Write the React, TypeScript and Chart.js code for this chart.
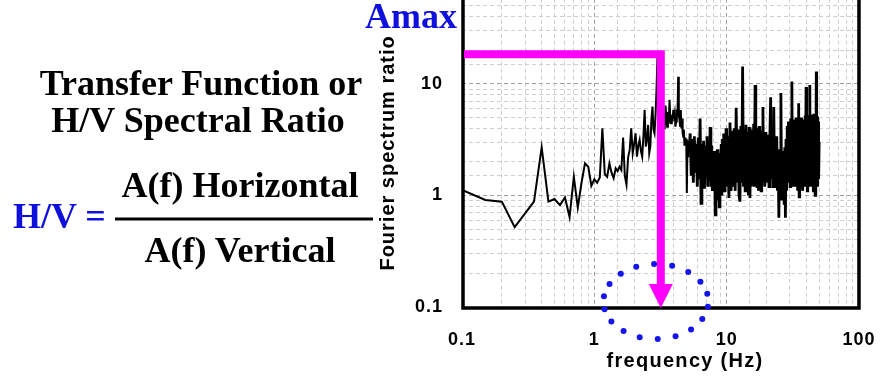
import React, { useEffect, useRef } from 'react';
import { Chart, registerables } from 'chart.js';

Chart.register(...registerables);

// ---- data (frequency in Hz, H/V spectral ratio) ----
const FREQ_LOW = [0.1, 0.15, 0.2, 0.25, 0.35, 0.4, 0.45, 0.5, 0.55, 0.6, 0.65, 0.7, 0.75, 0.8, 0.85, 0.9, 0.95];
const RATIO_LOW = [1.12, 0.91, 0.88, 0.52, 0.88, 2.7, 0.88, 0.93, 0.82, 0.96, 0.64, 1.47, 0.78, 1.3, 1.94, 1.81, 1.22];

const FREQ_RISE = [1.0, 1.05, 1.1, 1.15, 1.2, 1.25, 1.3, 1.35, 1.4, 1.45, 1.5, 1.55, 1.6, 1.65, 1.7, 1.75, 1.8, 1.85, 1.9, 1.95,
  2.0, 2.05, 2.1, 2.15, 2.2, 2.25, 2.3, 2.35, 2.4, 2.45, 2.5, 2.55, 2.6, 2.65, 2.7, 2.75, 2.8, 2.85, 2.9, 2.95, 3.0, 3.05, 3.1, 3.15];
const RATIO_RISE = [1.4, 1.3, 1.45, 4.0, 1.55, 1.47, 1.94, 1.6, 1.43, 1.75, 1.65, 1.81, 1.69, 3.3, 1.5, 1.25, 2.2, 2.56, 4.0, 2.39,
  2.9, 3.6, 2.23, 2.8, 3.15, 2.5, 2.23, 3.4, 5.85, 2.74, 3.2, 4.29, 2.4, 2.74, 4.8, 6.26, 3.9, 3.61, 5.2, 8.8, 17.5, 6.0, 4.0, 5.5];

const FREQ_PEAK = [3.2, 3.25, 3.3, 3.35, 3.4, 3.45, 3.5, 3.55, 3.6, 3.65, 3.7, 3.75, 3.8, 3.85, 3.9, 3.95, 4.0, 4.05, 4.1, 4.15,
  4.2, 4.25, 4.3, 4.35, 4.4, 4.45, 4.5, 4.55, 4.6, 4.65, 4.7, 4.75, 4.8, 4.85, 4.9, 4.95, 5.0, 5.05, 5.1, 5.15, 5.2];
const RATIO_PEAK = [5.0, 6.7, 4.2, 5.3, 3.9, 6.4, 5.1, 4.14, 5.6, 4.4, 7.2, 5.0, 4.45, 5.3, 4.6, 5.85, 4.9, 5.4, 4.14, 4.6,
  5.9, 5.1, 11.6, 5.2, 4.75, 4.2, 5.85, 4.0, 4.9, 3.6, 3.37, 3.9, 2.8, 3.3, 2.96, 3.2, 1.05, 2.4, 3.1, 2.2, 2.56];

const FREQ_BAND1 = [5.3, 5.4, 5.5, 5.6, 5.7, 5.8, 5.9, 6.0, 6.1, 6.2, 6.3, 6.4, 6.5, 6.6, 6.7, 6.8, 6.9, 7.0, 7.1, 7.2,
  7.3, 7.4, 7.5, 7.6, 7.7, 7.8, 7.9, 8.0, 8.1, 8.2, 8.3, 8.4, 8.5, 8.6, 8.7, 8.8, 8.9, 9.0, 9.1, 9.2,
  9.3, 9.4, 9.5, 9.6, 9.7, 9.8, 9.9, 10.0];
const RATIO_BAND1 = [3.6, 1.5, 3.2, 1.3, 3.4, 1.6, 2.9, 1.2, 3.3, 1.4, 4.9, 0.85, 2.9, 1.4, 3.1, 1.15, 2.8, 1.5, 3.4, 1.2,
  2.7, 1.4, 4.1, 1.2, 2.8, 1.1, 2.4, 1.3, 2.5, 0.67, 2.1, 1.0, 2.6, 0.9, 2.0, 0.79, 2.4, 1.1, 2.9, 1.0,
  3.2, 1.2, 3.6, 1.1, 3.3, 1.3, 4.0, 1.2];

const FREQ_BAND2 = [10.2, 10.4, 10.6, 10.8, 11.0, 11.2, 11.4, 11.6, 11.8, 12.0, 12.2, 12.4, 12.6, 12.8, 13.0, 13.2, 13.4, 13.6, 13.8, 14.0,
  14.2, 14.4, 14.6, 14.8, 15.0, 15.2, 15.4, 15.6, 15.8, 16.0, 16.2, 16.4, 16.6, 16.8, 17.0, 17.2, 17.4, 17.6, 17.8, 18.0,
  18.2, 18.4, 18.6, 18.8, 19.0, 19.2, 19.4, 19.6, 19.8, 20.0];
const RATIO_BAND2 = [3.4, 0.95, 4.5, 1.1, 3.8, 1.2, 4.0, 1.1, 6.1, 1.3, 3.9, 1.0, 0.88, 4.2, 1.3, 14.3, 1.2, 3.9, 1.1, 4.3,
  1.3, 3.7, 1.0, 4.1, 0.95, 3.9, 1.2, 3.6, 1.4, 4.4, 1.2, 9.8, 1.3, 4.0, 1.2, 3.7, 1.1, 4.2, 1.3, 3.6,
  1.1, 3.8, 1.4, 6.2, 1.3, 3.5, 1.2, 3.7, 1.4, 3.3];

const FREQ_BAND3 = [20.3, 20.6, 20.9, 21.2, 21.5, 21.8, 22.1, 22.4, 22.7, 23.0, 23.3, 23.6, 23.9, 24.2, 24.5, 24.8, 25.1, 25.4, 25.7, 26.0,
  26.3, 26.6, 26.9, 27.2, 27.5, 27.8, 28.1, 28.4, 28.7, 29.0, 29.3, 29.6, 29.9, 30.2, 30.5, 30.8, 31.1, 31.4, 31.7, 32.0,
  32.3, 32.6, 32.9, 33.2, 33.5, 33.8, 34.1, 34.4, 34.7, 35.0, 35.3, 35.6, 35.9, 36.2, 36.5, 36.8, 37.1, 37.4, 37.7, 38.0,
  38.3, 38.6, 38.9, 39.2, 39.5, 39.8, 40.1, 40.4, 40.7, 41.0, 41.3, 41.6, 41.9, 42.2, 42.5, 42.8, 43.1, 43.4, 43.7, 44.0,
  44.3, 44.6, 44.9, 45.2, 45.5, 45.8, 46.1, 46.4, 46.7, 47.0, 47.3, 47.6, 47.9, 48.2, 48.5, 48.8, 49.1, 49.4, 49.7, 50.0];
const RATIO_BAND3 = [1.3, 3.5, 1.2, 3.3, 7.6, 1.4, 3.6, 1.2, 6.2, 1.3, 3.2, 1.2, 3.4, 1.1, 2.6, 0.63, 2.4, 0.95, 8.3, 0.9,
  2.5, 1.0, 2.3, 0.85, 2.7, 0.63, 3.2, 1.1, 4.2, 1.3, 4.6, 1.4, 4.3, 1.2, 4.9, 1.5, 10.5, 1.3, 4.4, 1.2,
  4.8, 1.4, 4.1, 1.2, 5.0, 1.5, 4.3, 1.1, 4.7, 6.7, 0.97, 4.2, 1.3, 4.6, 1.2, 5.0, 1.4, 4.1, 1.1, 4.8,
  1.5, 4.4, 1.2, 5.2, 1.3, 9.4, 1.4, 4.5, 1.1, 4.9, 1.6, 4.2, 1.2, 5.1, 9.8, 1.3, 4.6, 1.5, 5.3, 1.2,
  4.4, 1.4, 4.8, 1.1, 5.4, 1.5, 4.5, 1.3, 1.0, 5.0, 1.4, 12.9, 1.6, 4.7, 1.2, 5.1, 1.5, 4.6, 1.4, 3.0];

const FREQ_HZ = [...FREQ_LOW, ...FREQ_RISE, ...FREQ_PEAK, ...FREQ_BAND1, ...FREQ_BAND2, ...FREQ_BAND3];
const SPECTRAL_RATIO = [...RATIO_LOW, ...RATIO_RISE, ...RATIO_PEAK, ...RATIO_BAND1, ...RATIO_BAND2, ...RATIO_BAND3];

const X_TICK_LABELS = [0.1, 1, 10, 100];
const Y_TICK_LABELS = [0.1, 1, 10];
const X_MIN = 0.1;
const X_MAX = 100;
const Y_MIN = 0.1;
const Y_MAX = 58;
const DENSE_FROM_HZ = 5.2;

// Amax marker (resonance peak) and highlighted frequency
const AMAX_FREQ = 3.18;
const AMAX_RATIO = 18.5;
const CIRCLE_FREQ = 2.92;
const CIRCLE_RATIO = 0.112;

const SANS = '"Liberation Sans", Arial, Helvetica, sans-serif';
const SERIF = '"Liberation Serif", "Times New Roman", Times, serif';
const BLUE = '#1010dc';

const isDecade = (v: number) => {
  const l = Math.log10(v);
  return Math.abs(l - Math.round(l)) < 1e-6;
};
const labelFor = (v: number, list: number[]) => {
  const hit = list.find((t) => Math.abs(v - t) / t < 1e-6);
  return hit === undefined ? '' : String(hit);
};

export default function App() {
  const ref = useRef<HTMLCanvasElement | null>(null);

  useEffect(() => {
    const canvas = ref.current;
    if (!canvas) return;

    const spacingPlugin = {
      id: 'spacing',
      beforeDraw(chart: any) {
        try { chart.ctx.letterSpacing = '1px'; } catch (e) { /* ignore */ }
      },
    };

    const framePlugin = {
      id: 'frame',
      afterDatasetsDraw(chart: any) {
        const { ctx, chartArea } = chart;
        ctx.save();
        ctx.strokeStyle = '#000';
        ctx.lineWidth = 3.5;
        ctx.lineJoin = 'miter';
        ctx.beginPath();
        ctx.moveTo(chartArea.left + 1, 0);
        ctx.lineTo(chartArea.left + 1, chartArea.bottom + 1);
        ctx.lineTo(chartArea.right, chartArea.bottom + 1);
        ctx.lineTo(chartArea.right, 0);
        ctx.stroke();
        ctx.restore();
      },
    };

    const annotPlugin = {
      id: 'annot',
      afterDraw(chart: any) {
        const { ctx, chartArea } = chart;
        const xs = chart.scales.x;
        const ys = chart.scales.y;
        ctx.save();
        // x axis title
        try { ctx.letterSpacing = '1.3px'; } catch (e) { /* ignore */ }
        ctx.fillStyle = '#000';
        ctx.font = `bold 20px ${SANS}`;
        ctx.textAlign = 'center';
        ctx.textBaseline = 'middle';
        ctx.fillText('frequency (Hz)', 685, chartArea.bottom + 54);

        // magenta Amax arrow
        const px = xs.getPixelForValue(AMAX_FREQ);
        const py = ys.getPixelForValue(AMAX_RATIO);
        const by = ys.getPixelForValue(Y_MIN);
        ctx.strokeStyle = '#ff00ff';
        ctx.fillStyle = '#ff00ff';
        ctx.lineWidth = 8;
        ctx.lineJoin = 'miter';
        ctx.lineCap = 'butt';
        ctx.beginPath();
        ctx.moveTo(chartArea.left + 2, py);
        ctx.lineTo(px, py);
        ctx.lineTo(px, by - 20);
        ctx.stroke();
        ctx.beginPath();
        ctx.moveTo(px - 12, by - 23);
        ctx.lineTo(px + 12, by - 23);
        ctx.lineTo(px, by + 1);
        ctx.closePath();
        ctx.fill();

        // blue dotted ellipse
        const cx = xs.getPixelForValue(CIRCLE_FREQ);
        const cy = ys.getPixelForValue(CIRCLE_RATIO);
        ctx.fillStyle = '#1414ee';
        const n = 18;
        for (let i = 0; i < n; i++) {
          const a = (-92 + i * (360 / n)) * Math.PI / 180;
          ctx.beginPath();
          ctx.arc(cx + 52.5 * Math.cos(a), cy + 37.5 * Math.sin(a), 3, 0, Math.PI * 2);
          ctx.fill();
        }
        ctx.restore();
      },
    };

    const gridColor = (c: any) => (c.tick && isDecade(c.tick.value) ? '#a0a0a0' : '#cfcfcf');

    const chart = new Chart(canvas, {
      type: 'line',
      data: {
        datasets: [
          {
            label: 'H/V',
            data: FREQ_HZ.map((f, i) => ({ x: f, y: SPECTRAL_RATIO[i] })),
            borderColor: '#000',
            borderWidth: 2.0,
            pointRadius: 0,
            tension: 0,
            fill: false,
            segment: {
              borderWidth: (c: any) => (c.p0.parsed.x >= DENSE_FROM_HZ ? 2.8 : 2.0),
            },
          },
        ],
      },
      options: {
        animation: false,
        responsive: false,
        devicePixelRatio: 1,
        layout: { padding: { left: 370, right: 26, top: 0, bottom: 0 } },
        plugins: { legend: { display: false }, tooltip: { enabled: false } },
        scales: {
          x: {
            type: 'logarithmic',
            min: X_MIN,
            max: X_MAX,
            afterFit: (s: any) => { s.height = 75; },
            grid: { color: gridColor, lineWidth: 1, drawTicks: false, borderDash: [4, 3] } as any,
            border: { display: false, dash: [4, 3] },
            ticks: {
              autoSkip: false,
              maxRotation: 0,
              padding: 22,
              color: '#000',
              font: { family: SANS, size: 18, weight: 'bold' },
              callback: (v: any) => labelFor(Number(v), X_TICK_LABELS),
            },
          },
          y: {
            type: 'logarithmic',
            min: Y_MIN,
            max: Y_MAX,
            afterFit: (s: any) => { s.width = 92; },
            title: {
              display: true,
              text: 'Fourier spectrum ratio',
              color: '#000',
              font: { family: SANS, size: 20, weight: 'bold' },
              padding: { top: 6, bottom: 0 },
            },
            grid: { color: gridColor, lineWidth: 1, drawTicks: false, borderDash: [4, 3] } as any,
            border: { display: false, dash: [4, 3] },
            ticks: {
              autoSkip: false,
              padding: 19,
              color: '#000',
              font: { family: SANS, size: 18, weight: 'bold' },
              callback: (v: any) => labelFor(Number(v), Y_TICK_LABELS),
            },
          },
        },
      } as any,
      plugins: [spacingPlugin, framePlugin, annotPlugin],
    });

    return () => chart.destroy();
  }, []);

  const serifBold: React.CSSProperties = { fontFamily: SERIF, fontWeight: 'bold' };

  return (
    <div style={{ position: 'absolute', left: 0, top: 0, width: 885, height: 382, overflow: 'hidden', background: '#fff' }}>
      <div style={{ position: 'absolute', left: 0, top: -31, width: 896, height: 413 }}>
        <canvas ref={ref} width={896} height={413} style={{ display: 'block' }} />
      </div>
      <svg width={885} height={382} style={{ position: 'absolute', left: 0, top: 0, pointerEvents: 'none' }}>
        <g style={serifBold} fontSize={36}>
          <text x={201} y={95} textAnchor="middle" fill="#000">Transfer Function or</text>
          <text x={198} y={132} textAnchor="middle" fill="#000">H/V Spectral Ratio</text>
          <text x={240} y={197} textAnchor="middle" fill="#000">A(f) Horizontal</text>
          <line x1={115} y1={219} x2={373} y2={219} stroke="#000" strokeWidth={3} />
          <text x={240} y={262} textAnchor="middle" fill="#000">A(f) Vertical</text>
          <text x={13} y={228} fill={BLUE}>H/V =</text>
          <text x={365} y={28} fill={BLUE}>Amax</text>
        </g>
      </svg>
    </div>
  );
}
